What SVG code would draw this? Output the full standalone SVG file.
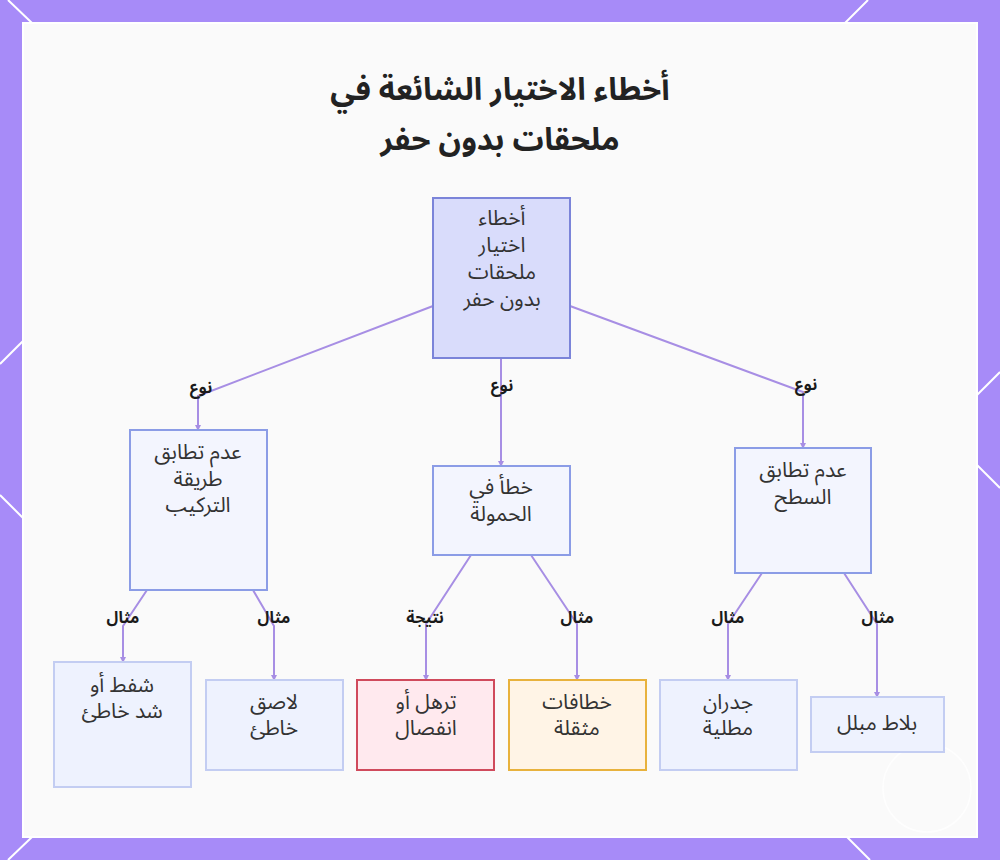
<svg xmlns="http://www.w3.org/2000/svg" width="1000" height="860" viewBox="0 0 1000 860">
<style>
.t{font-family:"Noto Sans Arabic","DejaVu Sans","Noto Sans",sans-serif;fill:#333;font-size:21px;text-anchor:middle;direction:rtl}
.title{font-family:"Noto Sans Arabic","DejaVu Sans","Noto Sans",sans-serif;fill:#222;font-size:31px;font-weight:bold;text-anchor:middle;direction:rtl}
.lbl{font-family:"Noto Sans Arabic","DejaVu Sans","Noto Sans",sans-serif;fill:#1a1a1a;font-size:16px;font-weight:bold;text-anchor:middle;direction:rtl}
.c{fill:none;stroke:#a78ee4;stroke-width:2;marker-end:url(#ah)}
.root{fill:#d9dcfb;stroke:#7b84d9;stroke-width:2}
.mid{fill:#f3f5fe;stroke:#8b9ce6;stroke-width:2}
.leaf{fill:#eef2fe;stroke:#c3cdf2;stroke-width:2}
.red{fill:#ffe9ee;stroke:#d04a5c;stroke-width:2}
.org{fill:#fff4e6;stroke:#e8b23d;stroke-width:2}
.dl{stroke:#ffffff;stroke-width:2}
</style>
<defs>
<marker id="ah" markerWidth="6" markerHeight="6" refX="5" refY="3" orient="auto" markerUnits="userSpaceOnUse">
<path d="M0,0 L6,3 L0,6 z" fill="#a78ee4"/>
</marker>
</defs>
<rect x="0" y="0" width="1000" height="860" fill="#a78bf8"/>
<g id="bg-lines">
<line class="dl" x1="8" y1="0" x2="32" y2="23"/>
<line class="dl" x1="845" y1="23" x2="868" y2="0"/>
<line class="dl" x1="8" y1="860" x2="32" y2="837"/>
<line class="dl" x1="847" y1="837" x2="870" y2="860"/>
<line class="dl" x1="0" y1="364" x2="23" y2="341"/>
<line class="dl" x1="0" y1="495" x2="23" y2="518"/>
<line class="dl" x1="977" y1="395" x2="1000" y2="372"/>
<line class="dl" x1="977" y1="465" x2="1000" y2="488"/>
</g>
<rect x="23" y="23" width="954" height="814" fill="#fafafa" stroke="#ffffff" stroke-width="2"/>
<circle cx="927" cy="788" r="44" fill="none" stroke="#ffffff" stroke-width="1.5" opacity="0.8"/>
<g id="title">
<text class="title" x="500" y="100">أخطاء الاختيار الشائعة في</text>
<text class="title" x="500" y="150">ملحقات بدون حفر</text>
</g>
<g id="connectors">
<polyline class="c" points="433,306 198,396 198,430"/>
<polyline class="c" points="501,358 501,466"/>
<polyline class="c" points="570,306 803,392 803,448"/>
<polyline class="c" points="147,590 123,626 123,662"/>
<polyline class="c" points="253,590 274,626 274,680"/>
<polyline class="c" points="471,555 426,624 426,680"/>
<polyline class="c" points="531,555 577,624 577,680"/>
<polyline class="c" points="762,573 728,624 728,680"/>
<polyline class="c" points="844,573 877,624 877,697"/>
<text class="lbl" x="201" y="393">نوع</text>
<text class="lbl" x="502" y="391">نوع</text>
<text class="lbl" x="806" y="390">نوع</text>
<text class="lbl" x="123" y="623">مثال</text>
<text class="lbl" x="274" y="623">مثال</text>
<text class="lbl" x="425" y="623">نتيجة</text>
<text class="lbl" x="577" y="623">مثال</text>
<text class="lbl" x="728" y="623">مثال</text>
<text class="lbl" x="878" y="623">مثال</text>
</g>
<g id="root">
<rect class="root" x="433" y="198" width="137" height="160"/>
<text class="t" x="502" y="225">أخطاء</text>
<text class="t" x="502" y="252">اختيار</text>
<text class="t" x="502" y="279">ملحقات</text>
<text class="t" x="502" y="306">بدون حفر</text>
</g>
<g id="n-install">
<rect class="mid" x="130" y="430" width="137" height="160"/>
<text class="t" x="198" y="459">عدم تطابق</text>
<text class="t" x="198" y="486">طريقة</text>
<text class="t" x="198" y="512">التركيب</text>
</g>
<g id="n-load">
<rect class="mid" x="433" y="466" width="137" height="89"/>
<text class="t" x="501" y="494">خطأ في</text>
<text class="t" x="501" y="521">الحمولة</text>
</g>
<g id="n-surface">
<rect class="mid" x="735" y="448" width="136" height="125"/>
<text class="t" x="803" y="477">عدم تطابق</text>
<text class="t" x="803" y="504">السطح</text>
</g>
<g id="n-suction">
<rect class="leaf" x="54" y="662" width="137" height="125"/>
<text class="t" x="122" y="692">شفط أو</text>
<text class="t" x="122" y="718">شد خاطئ</text>
</g>
<g id="n-adhesive">
<rect class="leaf" x="206" y="680" width="137" height="90"/>
<text class="t" x="274" y="709">لاصق</text>
<text class="t" x="274" y="735">خاطئ</text>
</g>
<g id="n-sag">
<rect class="red" x="357" y="680" width="137" height="90"/>
<text class="t" x="426" y="709">ترهل أو</text>
<text class="t" x="426" y="735">انفصال</text>
</g>
<g id="n-hooks">
<rect class="org" x="509" y="680" width="137" height="90"/>
<text class="t" x="577" y="709">خطافات</text>
<text class="t" x="577" y="735">مثقلة</text>
</g>
<g id="n-walls">
<rect class="leaf" x="660" y="680" width="137" height="90"/>
<text class="t" x="728" y="709">جدران</text>
<text class="t" x="728" y="735">مطلية</text>
</g>
<g id="n-tile">
<rect class="leaf" x="811" y="697" width="133" height="55"/>
<text class="t" x="877" y="730">بلاط مبلل</text>
</g>
</svg>
